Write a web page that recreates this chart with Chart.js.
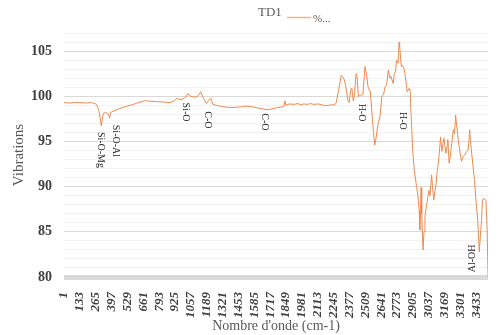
<!DOCTYPE html>
<html>
<head>
<meta charset="utf-8">
<script src="https://cdn.jsdelivr.net/npm/chart.js@4.4.1/dist/chart.umd.min.js"></script>
<style>
  html, body { margin: 0; padding: 0; background: #ffffff; }
  #wrap { width: 499px; height: 335px; position: relative; }
</style>
</head>
<body>
<div id="wrap"><canvas id="c" width="499" height="335"></canvas></div>
<script>
// Spectrum samples: point index on the wavenumber axis and measured value
const positions = [
  1, 40, 90, 131, 180, 230, 266, 277, 293, 312, 320, 328, 350, 370, 380, 390, 401,
  455, 510, 577, 620, 672, 723, 780, 840, 885, 918, 942, 966, 991, 1015, 1031, 1048,
  1078, 1105, 1121, 1139, 1159, 1173, 1186, 1202, 1222, 1240, 1267, 1321, 1388, 1453,
  1510, 1564, 1616, 1656, 1697, 1729, 1778, 1831, 1839, 1848, 1875, 1916, 1948, 1970,
  1997, 2030, 2051, 2078, 2119, 2159, 2183, 2224, 2254, 2267, 2281, 2295, 2308, 2322,
  2335, 2350, 2362, 2374, 2389, 2397, 2408, 2419, 2431, 2439, 2451, 2467, 2488, 2506,
  2516, 2532, 2551, 2565, 2577, 2587, 2597, 2613, 2632, 2646, 2660, 2673, 2686, 2700,
  2713, 2721, 2741, 2749, 2760, 2768, 2781, 2790, 2794, 2808, 2814, 2830, 2840, 2857,
  2875, 2881, 2889, 2903, 2916, 2935, 2946, 2957, 2962, 2968, 2973, 2978, 2989, 2997,
  3005, 3019, 3038, 3047, 3060, 3068, 3078, 3088, 3098, 3108, 3119, 3129, 3135, 3146,
  3155, 3163, 3179, 3190, 3195, 3206, 3217, 3228, 3241, 3251, 3260, 3271, 3282, 3296,
  3309, 3320, 3336, 3348, 3363, 3371, 3377, 3383, 3391, 3403, 3417, 3429, 3444, 3457,
  3466, 3476, 3484, 3492, 3512, 3522, 3530
];
const values = [
  99.3, 99.25, 99.3, 99.3, 99.25, 99.3, 99.15, 99.0, 98.3, 96.7, 97.5, 98.1, 98.2, 98.0, 97.6, 98.2, 98.3,
  98.6, 98.85, 99.1, 99.3, 99.5, 99.45, 99.4, 99.35, 99.3, 99.5, 99.8, 99.6, 99.7, 99.9, 100.3, 100.05,
  99.9, 99.95, 100.1, 100.5, 99.85, 99.5, 99.2, 99.5, 99.8, 99.1, 99.0, 98.85, 98.75, 98.8,
  98.9, 98.85, 98.7, 98.6, 98.5, 98.6, 98.75, 98.85, 99.5, 99.0, 99.15, 99.1, 99.2, 99.05,
  99.15, 99.1, 99.2, 99.1, 99.15, 99.0, 98.95, 99.05, 99.05, 99.3, 100.3, 101.3, 102.3, 102.1,
  101.8, 100.8, 99.6, 99.3, 100.8, 100.9, 99.5, 100.2, 102.5, 102.3, 100.0, 100.1, 100.2, 103.3,
  102.6, 101.0, 100.5, 97.9, 96.0, 94.6, 95.3, 96.8, 97.9, 100.0, 100.15, 101.05, 101.25, 102.9,
  102.0, 102.2, 101.4, 102.5, 102.7, 104.0, 103.65, 105.97, 105.6, 103.3, 103.45, 103.1, 102.4, 100.5,
  100.9, 100.7, 98.1, 94.0, 91.8, 90.0, 89.0, 87.4, 85.2, 87.5, 89.9, 87.0, 83.0, 85.0,
  86.7, 88.0, 89.6, 89.0, 91.3, 90.0, 88.5, 89.5, 90.4, 91.8, 92.95, 94.5, 95.5, 93.9,
  94.8, 95.35, 93.7, 94.5, 95.2, 92.6, 93.5, 94.8, 96.3, 95.8, 97.9, 96.5, 95.2, 93.8,
  92.8, 93.3, 93.5, 93.8, 94.05, 95.0, 96.3, 95.2, 94.05, 92.5, 90.75, 88.5, 86.3, 82.8,
  84.5, 86.3, 88.5, 88.7, 88.5, 85.5, 80.0
];

// Wavenumber tick labels along the bottom axis
const tickLabels = [
  1, 133, 265, 397, 529, 661, 793, 925, 1057, 1189, 1321, 1453, 1585, 1717,
  1849, 1981, 2113, 2245, 2377, 2509, 2641, 2773, 2905, 3037, 3169, 3301, 3433
];

// Band assignments written next to the spectrum
const bandNames     = ['Si-O-Mg', 'Si-O-Al', 'Si-O', 'C-O', 'C-O', 'H-O', 'H-O', 'Al-OH'];
const bandPositions = [309, 427, 1015, 1194, 1672, 2476, 2816, 3397];
const bandLevels    = [94.06, 95.06, 98.26, 97.38, 97.16, 98.2, 97.27, 82.06];
const bandTurns     = [1, 1, 1, 1, 1, 1, 1, -1];

const seriesName = '%...';
const chartName = 'TD1';
const lineColor = '#ee8a4f';

const points = positions.map((p, i) => ({ x: p, y: values[i] }));

const serif = '"Liberation Serif", "Times New Roman", serif';

const decorations = {
  id: 'decorations',
  afterDatasetsDraw(chart) {
    const { ctx, scales: { x, y } } = chart;
    ctx.save();
    // band labels
    ctx.font = '10px ' + serif;
    ctx.fillStyle = '#262626';
    ctx.textAlign = 'center';
    ctx.textBaseline = 'middle';
    bandNames.forEach((name, i) => {
      ctx.save();
      ctx.translate(x.getPixelForValue(bandPositions[i]), y.getPixelForValue(bandLevels[i]));
      ctx.rotate(bandTurns[i] * Math.PI / 2);
      ctx.fillText(name, 0, 0);
      ctx.restore();
    });
    // header: chart name followed by the series key
    ctx.textAlign = 'left';
    ctx.fillStyle = '#595959';
    ctx.font = '13px ' + serif;
    ctx.fillText(chartName, 258, 13);
    ctx.strokeStyle = '#f4b183';
    ctx.lineWidth = 1.5;
    ctx.beginPath();
    ctx.moveTo(287, 17.5);
    ctx.lineTo(311, 17.5);
    ctx.stroke();
    ctx.font = '11px ' + serif;
    ctx.fillText(seriesName, 313, 19);
    ctx.restore();
  }
};

new Chart(document.getElementById('c'), {
  type: 'line',
  data: {
    datasets: [{
      label: seriesName,
      data: points,
      borderColor: lineColor,
      borderWidth: 1,
      pointRadius: 0,
      tension: 0,
      fill: false
    }]
  },
  options: {
    responsive: false,
    animation: false,
    devicePixelRatio: 1,
    layout: { padding: { top: 33, left: 0, right: 0, bottom: 0 } },
    plugins: {
      legend: { display: false },
      tooltip: { enabled: false },
      title: { display: false }
    },
    scales: {
      x: {
        type: 'linear',
        min: 1,
        max: 3530,
        afterBuildTicks(scale) {
          scale.ticks = tickLabels.map(v => ({ value: v }));
        },
        afterFit(scale) { scale.height = 58; },
        grid: { display: false },
        border: { display: false },
        ticks: {
          autoSkip: false,
          minRotation: 90,
          maxRotation: 90,
          padding: 7,
          color: '#404040',
          font: { family: serif, size: 13, style: 'italic', weight: 'bold' },
          callback: v => String(v)
        },
        title: {
          display: true,
          text: "Nombre d'onde (cm-1)",
          color: '#595959',
          font: { family: serif, size: 14 },
          padding: { top: 0, bottom: 0 }
        }
      },
      y: {
        min: 80,
        max: 107,
        afterFit(scale) { scale.width = 64; },
        afterBuildTicks(scale) {
          const t = [];
          for (let v = 80; v <= 107; v++) t.push({ value: v });
          scale.ticks = t;
        },
        border: { display: false },
        grid: {
          drawTicks: false,
          color: c => (c.tick.value % 5 === 0 ? '#d9d9d9' : '#f2f2f2'),
          lineWidth: c => (c.tick.value === 80 ? 5 : 1)
        },
        ticks: {
          autoSkip: false,
          padding: 12,
          color: '#404040',
          font: { family: serif, size: 14, weight: 'bold' },
          callback: v => (v % 5 === 0 ? String(v) : '')
        },
        title: {
          display: true,
          text: 'Vibrations',
          color: '#595959',
          font: { family: serif, size: 15 },
          padding: { top: 10, bottom: 0 }
        }
      }
    }
  },
  plugins: [decorations]
});
</script>
</body>
</html>
